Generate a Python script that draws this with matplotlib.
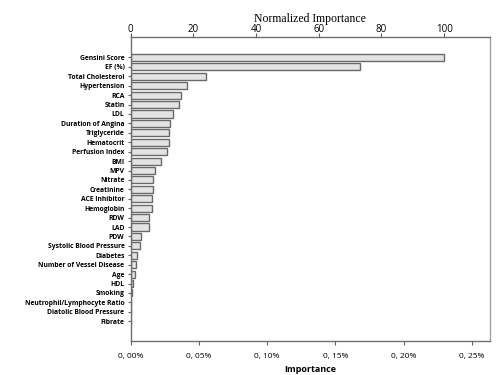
import matplotlib.pyplot as plt
from matplotlib.ticker import FuncFormatter

features = ['Gensini Score', 'EF (%)', 'Total Cholesterol', 'Hypertension', 'RCA',
            'Statin', 'LDL', 'Duration of Angina', 'Triglyceride', 'Hematocrit',
            'Perfusion Index', 'BMI', 'MPV', 'Nitrate', 'Creatinine',
            'ACE Inhibitor', 'Hemoglobin', 'RDW', 'LAD', 'PDW',
            'Systolic Blood Pressure', 'Diabetes', 'Number of Vessel Disease', 'Age', 'HDL',
            'Smoking', 'Neutrophil/Lymphocyte Ratio', 'Diatolic Blood Pressure', 'Fibrate']
normalized = [100, 73.3, 24.0, 18.0, 16.1, 15.4, 13.4, 12.6, 12.3, 12.2,
              11.5, 9.7, 7.8, 7.2, 7.0, 6.8, 6.7, 5.9, 5.8, 3.3,
              2.9, 2.1, 1.7, 1.5, 0.8, 0.5, 0.2, 0.15, 0.05]
max_importance = 0.2298  # importance (%) of the top feature

importance = [v * max_importance / 100 for v in normalized]

plt.rcParams['font.family'] = ['Open Sans', 'DejaVu Sans']
fig = plt.figure(figsize=(5, 3.75), dpi=100)
ax = fig.add_axes([0.2614, 0.0907, 0.7186, 0.8113])

ypos = list(range(len(features)))
ax.barh(ypos, importance, height=0.75, color='#e3e3e3', edgecolor='#6a6a6a', linewidth=1.0)
ax.set_yticks(ypos)
ax.set_yticklabels(features, fontsize=4.9, fontweight='bold')
ax.set_ylim(len(features) - 1 + 2.1, -2.2)

xmax = 0.2634
ax.set_xlim(0, xmax)
ax.set_xticks([0, 0.05, 0.10, 0.15, 0.20, 0.25])
ax.xaxis.set_major_formatter(FuncFormatter(lambda v, p: ('%.2f%%' % v).replace('.', ', ')))
ax.tick_params(axis='x', labelsize=6, length=3, color='#606060', pad=6)
ax.tick_params(axis='y', length=2.5, color='#606060', pad=2)
ax.set_xlabel('Importance', fontsize=6.5, fontweight='bold', labelpad=3)

for s in ax.spines.values():
    s.set_color('#707070')
    s.set_linewidth(1.0)
ax.spines['right'].set_color('#a0a0a0')

top = ax.twiny()
top.set_xlim(0, xmax / max_importance * 100)
top.set_xticks([0, 20, 40, 60, 80, 100])
top.tick_params(axis='x', labelsize=7, length=3, color='#606060', pad=-2)
top.set_xlabel('Normalized Importance', family='Liberation Serif', fontsize=8.5, labelpad=2)
for s in top.spines.values():
    s.set_visible(False)

fig.savefig('out.png', dpi=100)
